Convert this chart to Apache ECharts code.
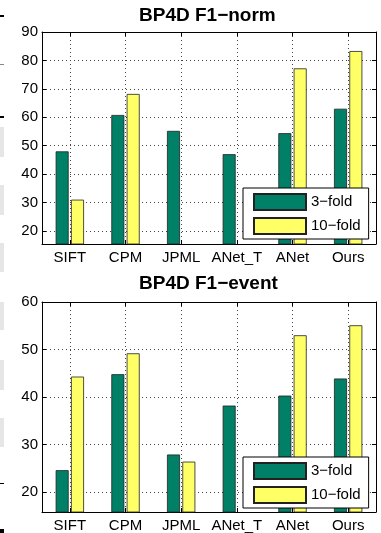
<!DOCTYPE html>
<html>

<head>
	<meta charset="UTF-8">
	<title></title>
	<style>
		html, body {
			margin: 0;
			padding: 0;
			background: #fff;
		}
		#chart {
			width: 381px;
			height: 533px;
		}
	</style>
	<script src="https://cdn.jsdelivr.net/npm/echarts@6/dist/echarts.min.js"></script>
</head>

<body>
	<div id="chart"></div>
	<script>
		var categories = ['SIFT', 'CPM', 'JPML', 'ANet_T', 'ANet', 'Ours'];
		var seriesNames = ['3\u2212fold', '10\u2212fold'];
		// F1-norm
		var normFold3 = [48.0, 60.8, 55.2, 47.0, 54.4, 63.0];
		var normFold10 = [31.0, 68.2, null, null, 77.2, 83.3];
		// F1-event
		var eventFold3 = [24.6, 44.8, 27.9, 38.2, 40.3, 43.9];
		var eventFold10 = [44.3, 49.2, 26.4, null, 53.0, 55.1];

		var font = 'Liberation Sans, Arial, Helvetica, sans-serif';
		var green = '#008066';
		var yellow = '#ffff66';

		var mychart = echarts.init(document.getElementById('chart'));

		function catAxis(grid, pos) {
			return {
				type: 'category',
				gridIndex: grid,
				position: pos,
				data: categories,
				axisLine: { lineStyle: { color: '#000', width: 1 } },
				axisTick: { show: true, inside: true, alignWithLabel: true, length: 4, lineStyle: { color: '#000' } },
				axisLabel: {
					show: pos === 'bottom',
					color: '#000',
					fontSize: 15,
					fontFamily: font,
					margin: 6,
					interval: 0
				},
				splitLine: {
					show: pos === 'bottom',
					alignWithLabel: true,
					lineStyle: { color: '#444', type: [1, 3], width: 1 }
				}
			};
		}

		function valAxis(grid, pos, min, max, split) {
			return {
				type: 'value',
				gridIndex: grid,
				position: pos,
				min: min,
				max: max,
				splitNumber: split,
				axisLine: { show: true, lineStyle: { color: '#000', width: 1 } },
				axisTick: { show: true, inside: true, length: 4, lineStyle: { color: '#000' } },
				axisLabel: {
					show: pos === 'left',
					showMinLabel: false,
					color: '#000',
					fontSize: 15,
					fontFamily: font,
					margin: 4
				},
				splitLine: {
					show: pos === 'left',
					lineStyle: { color: '#444', type: [1, 3], width: 1 }
				}
			};
		}

		function bars(name, data, color, grid) {
			return {
				type: 'bar',
				name: name,
				xAxisIndex: grid * 2,
				yAxisIndex: grid * 2,
				data: data,
				barWidth: 13,
				barGap: '18%',
				itemStyle: { color: color, borderColor: '#222', borderWidth: 0.8 }
			};
		}

		function legendAt(top) {
			return {
				orient: 'vertical',
				left: 243,
				top: top,
				data: seriesNames,
				icon: 'rect',
				itemWidth: 52,
				itemHeight: 16,
				itemGap: 6,
				padding: [5, 8, 4, 10],
				backgroundColor: '#fff',
				borderColor: '#000',
				borderWidth: 1,
				borderRadius: 0,
				selectedMode: false,
				textStyle: { color: '#000', fontSize: 15, fontFamily: font }
			};
		}

		var titleStyle = { color: '#000', fontSize: 19, fontWeight: 'bold', fontFamily: font };

		mychart.setOption({
			animation: false,
			title: [
				{ text: 'BP4D F1\u2212norm', left: 139, top: 6, padding: 0, textStyle: titleStyle },
				{ text: 'BP4D F1\u2212event', left: 139, top: 274, padding: 0, textStyle: titleStyle }
			],
			legend: [legendAt(188), legendAt(457)],
			grid: [
				{ left: 42, top: 32, width: 334, height: 212 },
				{ left: 42, top: 302, width: 334, height: 211 }
			],
			xAxis: [
				catAxis(0, 'bottom'),
				catAxis(0, 'top'),
				catAxis(1, 'bottom'),
				catAxis(1, 'top')
			],
			yAxis: [
				valAxis(0, 'left', 15.4, 90, 7),
				valAxis(0, 'right', 15.4, 90, 7),
				valAxis(1, 'left', 15.8, 60, 4),
				valAxis(1, 'right', 15.8, 60, 4)
			],
			graphic: [
				{ type: 'rect', shape: { x: 0, y: 15, width: 4, height: 2 }, style: { fill: '#000' } },
				{ type: 'rect', shape: { x: 0, y: 64, width: 4, height: 1 }, style: { fill: '#888' } },
				{ type: 'rect', shape: { x: 0, y: 116, width: 4, height: 2 }, style: { fill: '#000' } },
				{ type: 'rect', shape: { x: 0, y: 127, width: 4, height: 30 }, style: { fill: '#e6e6e6' } },
				{ type: 'rect', shape: { x: 0, y: 185, width: 4, height: 30 }, style: { fill: '#e6e6e6' } },
				{ type: 'rect', shape: { x: 0, y: 243, width: 4, height: 29 }, style: { fill: '#e6e6e6' } },
				{ type: 'rect', shape: { x: 0, y: 302, width: 4, height: 28 }, style: { fill: '#e6e6e6' } },
				{ type: 'rect', shape: { x: 0, y: 360, width: 4, height: 30 }, style: { fill: '#e6e6e6' } },
				{ type: 'rect', shape: { x: 0, y: 418, width: 4, height: 29 }, style: { fill: '#e6e6e6' } },
				{ type: 'rect', shape: { x: 0, y: 483, width: 4, height: 1 }, style: { fill: '#000' } },
				{ type: 'rect', shape: { x: 0, y: 529, width: 4, height: 4 }, style: { fill: '#000' } }
			],
			series: [
				bars(seriesNames[0], normFold3, green, 0),
				bars(seriesNames[1], normFold10, yellow, 0),
				bars(seriesNames[0], eventFold3, green, 1),
				bars(seriesNames[1], eventFold10, yellow, 1)
			]
		});
	</script>
</body>

</html>
